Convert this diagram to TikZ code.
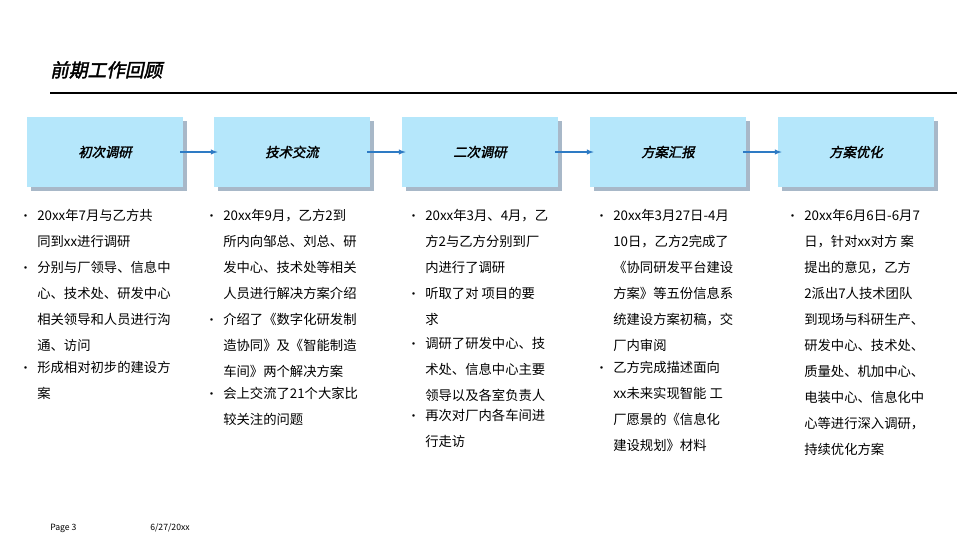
\documentclass[tikz,border=0pt]{standalone}
\usepackage{fontspec}
\setmainfont{Noto Sans CJK SC}
\newfontfamily\slfont[FakeSlant=0.2,FakeBold=2]{Noto Sans CJK SC}
\usetikzlibrary{positioning}
\definecolor{boxfill}{HTML}{B5E7FB}
\definecolor{shadowc}{HTML}{A8B8C8}
\definecolor{arrowc}{HTML}{2E7BC4}
\tikzset{
  stage/.style={fill=boxfill, minimum width=117pt, minimum height=52.5pt, inner sep=0pt, font=\slfont\fontsize{10}{12}\selectfont},
  shad/.style={fill=shadowc, minimum width=117pt, minimum height=52.5pt, inner sep=0pt},
  flow/.style={->, >=latex, thick, arrowc},
  txt/.style={inner sep=0pt, align=left, font=\fontsize{10}{19.5}\selectfont},
}
\newcommand\bul[4]{%
  \node[inner sep=0pt, anchor=base east, font=\fontsize{9}{10}\selectfont] (#1b) at (#2-5,#3) {•};
  \node[txt, anchor=north west] (#1) at (#2,#3-11.5) {#4};}
\begin{document}
\begin{tikzpicture}[x=0.75pt,y=-0.75pt]
  \useasboundingbox (0,0) rectangle (960,540);
  \node[anchor=base west, inner sep=0pt, font=\slfont\fontsize{14}{16}\selectfont] (title) at (50,77) {前期工作回顾};
  \draw[line width=2.2pt] (50,93) -- (957,93);

  % stages
  \foreach \i/\x/\t in {1/105/初次调研, 2/292/技术交流, 3/480/二次调研, 4/668/方案汇报, 5/856/方案优化} {
    \node[shad] at (\x+4,156) {};
    \node[stage] (s\i) at (\x,152) {\t};
  }
  \foreach \a/\b in {1/2, 2/3, 3/4, 4/5}
    \draw[flow] (s\a.east) ++(-3,0) -- ([xshift=3pt]s\b.west);

  % column 1
  \bul{a1}{37}{220}{20xx年7月与乙方共\\同到xx进行调研}
  \bul{a2}{37}{272}{分别与厂领导、信息中\\心、技术处、研发中心\\相关领导和人员进行沟\\通、访问}
  \bul{a3}{37}{372}{形成相对初步的建设方\\案}
  % column 2
  \bul{b1}{223}{220}{20xx年9月，乙方2到\\所内向邹总、刘总、研\\发中心、技术处等相关\\人员进行解决方案介绍}
  \bul{b2}{223}{324}{介绍了《数字化研发制\\造协同》及《智能制造\\车间》两个解决方案}
  \bul{b3}{223}{398}{会上交流了21个大家比\\较关注的问题}
  % column 3
  \bul{c1}{425}{220}{20xx年3月、4月，乙\\方2与乙方分别到厂\\内进行了调研}
  \bul{c2}{425}{298}{听取了对 项目的要\\求}
  \bul{c3}{425}{348}{调研了研发中心、技\\术处、信息中心主要\\领导以及各室负责人}
  \bul{c4}{425}{420}{再次对厂内各车间进\\行走访}
  % column 4
  \bul{d1}{613}{220}{20xx年3月27日-4月\\10日，乙方2完成了\\《协同研发平台建设\\方案》等五份信息系\\统建设方案初稿，交\\厂内审阅}
  \bul{d2}{613}{372}{乙方完成描述面向\\xx未来实现智能 工\\厂愿景的《信息化\\建设规划》材料}
  % column 5
  \bul{e1}{804}{220}{20xx年6月6日-6月7\\日，针对xx对方 案\\提出的意见，乙方\\2派出7人技术团队\\到现场与科研生产、\\研发中心、技术处、\\质量处、机加中心、\\电装中心、信息化中\\心等进行深入调研，\\持续优化方案}

  % footer
  \node[anchor=base west, inner sep=0pt, font=\fontsize{6.5}{8}\selectfont] (page) at (50,530) {Page 3};
  \node[anchor=base west, inner sep=0pt, font=\fontsize{6.5}{8}\selectfont] (date) at (150,530) {6/27/20xx};
\end{tikzpicture}
\end{document}
